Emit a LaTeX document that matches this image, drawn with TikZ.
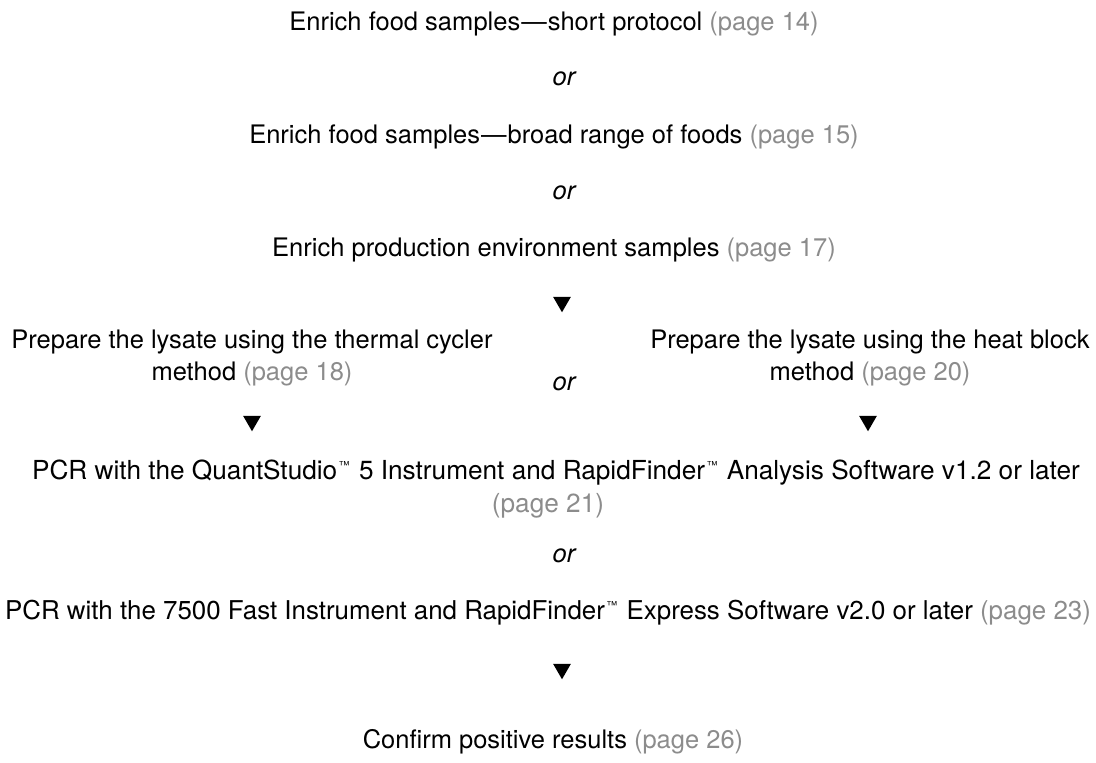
\documentclass[tikz,border=0pt]{standalone}
\usepackage{fontspec}
\setmainfont{TeX Gyre Heros}
\usetikzlibrary{shapes.geometric}
\definecolor{pagegray}{RGB}{140,140,140}
\newcommand{\pg}[1]{\textcolor{pagegray}{(page #1)}}
\newcommand{\tmk}{\kern1.5pt\textsuperscript{\fontsize{11}{11}\selectfont ™}\kern1.5pt}
\newcommand{\dsh}{\kern1pt—\kern1pt}
\tikzset{
  step text/.style={anchor=base, inner sep=0pt, font=\fontsize{25.5}{33}\selectfont, align=center},
  wide text/.style={step text, font=\fontsize{26.2}{33}\selectfont},
  wider text/.style={step text, font=\fontsize{25.9}{33}\selectfont},
  alt text/.style={anchor=base, inner sep=0pt, font=\fontsize{25.5}{33}\selectfont\itshape},
  down mark/.style={regular polygon, regular polygon sides=3, shape border rotate=180,
    fill=black, inner sep=0pt, minimum size=20.5pt},
}
\begin{document}
\begin{tikzpicture}[x=1pt,y=-1pt]
  \useasboundingbox (0,0) rectangle (1096,763);
  % enrichment options
  \node[step text] (e1) at (554,30) {Enrich food samples\dsh short protocol \pg{14}};
  \node[alt text]  (o1) at (564,85) {or};
  \node[step text] (e2) at (554,143) {Enrich food samples\dsh broad range of foods \pg{15}};
  \node[alt text]  (o2) at (564,199) {or};
  \node[step text] (e3) at (554,256) {Enrich production environment samples \pg{17}};
  \node[down mark] (d1) at (562,302) {};
  % lysate preparation
  \node[step text] (l1a) at (252,348) {Prepare the lysate using the thermal cycler};
  \node[step text] (l1b) at (252,380) {method \pg{18}};
  \node[alt text]  (o3)  at (564,390) {or};
  \node[step text] (l2a) at (870,348) {Prepare the lysate using the heat block};
  \node[step text] (l2b) at (870,380) {method \pg{20}};
  \node[down mark] (d2) at (252,421) {};
  \node[down mark] (d3) at (868,421) {};
  % PCR options
  \node[wide text] (p1a) at (556,479) {PCR with the QuantStudio\tmk{} 5 Instrument and RapidFinder\tmk{} Analysis Software v1.2 or later};
  \node[wide text] (p1b) at (548,512) {\pg{21}};
  \node[alt text]  (o4)  at (564,562) {or};
  \node[wider text] (p2) at (548,619) {PCR with the 7500 Fast Instrument and RapidFinder\tmk{} Express Software v2.0 or later \pg{23}};
  \node[down mark] (d4) at (562,669) {};
  % confirmation
  \node[step text] (c1) at (553,748) {Confirm positive results \pg{26}};
\end{tikzpicture}
\end{document}
